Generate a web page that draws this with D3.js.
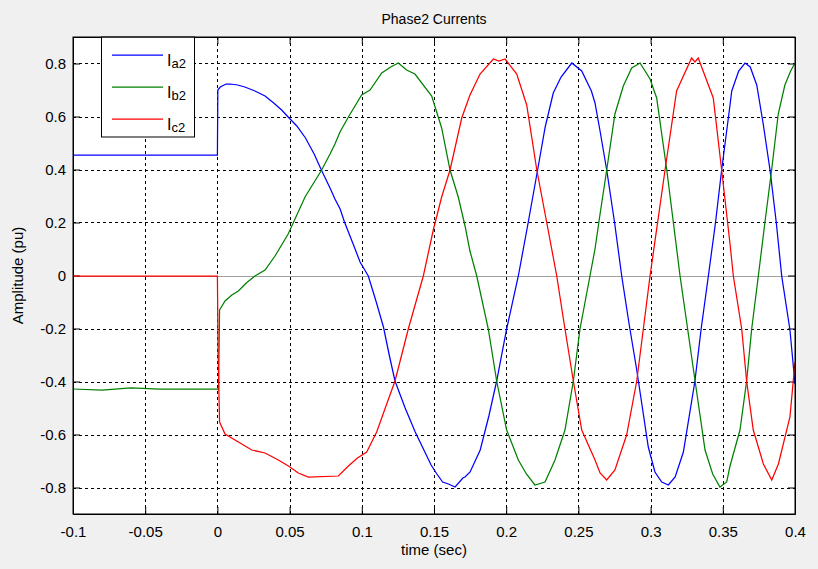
<!DOCTYPE html>
<html>
<head>
<meta charset="utf-8">
<script src="https://cdn.jsdelivr.net/npm/d3@7"></script>
<style>
  html, body { margin: 0; padding: 0; background: #f0f0f0; }
  svg { display: block; font-family: "Liberation Sans", Arial, sans-serif; }
  .grid line { stroke: #000; stroke-dasharray: 3,3; stroke-width: 1; }
  .axis path, .axis line { stroke: #000; }
  .axis text { font-size: 15px; fill: #000; }
</style>
</head>
<body>
<script>
(function() {

  /* tick values */
  var xTicks = [-0.1, -0.05, 0, 0.05, 0.1, 0.15, 0.2, 0.25, 0.3, 0.35, 0.4];
  var yTicks = [-0.8, -0.6, -0.4, -0.2, 0, 0.2, 0.4, 0.6, 0.8];

  /* series names (legend) */
  var seriesNames = ["a2", "b2", "c2"];
  var seriesColors = ["#0000ff", "#008000", "#ff0000"];

  /* [time, amplitude] */
  var ia2 = [[-0.1,0.453],[0,0.453],[0.0003,0.70],[0.002,0.71],[0.006,0.724],[0.009,0.724],[0.014,0.718],
    [0.019,0.713],[0.026,0.697],[0.033,0.677],[0.039,0.652],[0.0445,0.626],[0.049,0.600],[0.055,0.563],
    [0.061,0.520],[0.067,0.46],[0.072,0.397],[0.078,0.33],[0.0814,0.287],[0.085,0.25],[0.088,0.20],
    [0.094,0.12],[0.0988,0.05],[0.1045,0.0],[0.110,-0.10],[0.115,-0.195],[0.119,-0.30],[0.123,-0.397],
    [0.130,-0.50],[0.137,-0.59],[0.143,-0.66],[0.148,-0.716],[0.152,-0.75],[0.156,-0.78],[0.160,-0.785],
    [0.1646,-0.797],[0.170,-0.765],[0.1715,-0.76],[0.175,-0.74],[0.182,-0.66],[0.188,-0.53],[0.1934,-0.397],
    [0.2003,-0.2],[0.2084,0.0],[0.2153,0.2],[0.222,0.407],[0.227,0.56],[0.2326,0.69],[0.238,0.75],
    [0.2454,0.80],[0.2523,0.77],[0.259,0.696],[0.2615,0.65],[0.265,0.545],[0.2696,0.40],[0.275,0.20],
    [0.28,0.0],[0.285,-0.18],[0.2904,-0.358],[0.2984,-0.647],[0.303,-0.74],[0.3077,-0.778],[0.3123,-0.79],
    [0.317,-0.76],[0.3227,-0.665],[0.3307,-0.397],[0.335,-0.2],[0.34,0.0],[0.345,0.2],[0.3492,0.40],
    [0.355,0.645],[0.3562,0.695],[0.361,0.77],[0.3654,0.803],[0.369,0.785],[0.3735,0.72],[0.378,0.57],
    [0.3827,0.40],[0.387,0.2],[0.3908,0.0],[0.3965,-0.206],[0.4,-0.41]];

  var ib2 = [[-0.1,-0.428],[-0.08,-0.431],[-0.06,-0.425],[-0.04,-0.43],[-0.02,-0.427],[0,-0.43],[0.0008,-0.432],
    [0.0015,-0.13],[0.0053,-0.095],[0.010,-0.075],[0.0145,-0.057],[0.020,-0.03],[0.026,0.0],[0.033,0.019],
    [0.0399,0.075],[0.049,0.157],[0.055,0.23],[0.0607,0.295],[0.0722,0.397],[0.078,0.46],[0.0814,0.495],
    [0.0849,0.54],[0.0907,0.60],[0.0999,0.683],[0.1057,0.70],[0.1138,0.766],[0.120,0.785],[0.1253,0.80],
    [0.131,0.775],[0.1368,0.76],[0.1484,0.678],[0.1553,0.558],[0.1611,0.40],[0.1668,0.295],[0.1715,0.188],
    [0.1749,0.094],[0.1796,0.0],[0.1876,-0.2],[0.1934,-0.397],[0.2003,-0.584],[0.2084,-0.697],[0.214,-0.75],
    [0.2199,-0.79],[0.2269,-0.778],[0.2338,-0.697],[0.2407,-0.584],[0.2465,-0.397],[0.2511,-0.2],[0.258,0.0],
    [0.2615,0.10],[0.265,0.232],[0.2696,0.40],[0.2753,0.608],[0.2811,0.715],[0.2869,0.784],[0.2927,0.80],
    [0.2996,0.74],[0.3042,0.67],[0.3112,0.40],[0.3204,0.0],[0.3308,-0.397],[0.3377,-0.66],[0.343,-0.75],
    [0.348,-0.797],[0.3527,-0.778],[0.355,-0.72],[0.3619,-0.584],[0.3665,-0.397],[0.37,-0.2],[0.3746,0.0],
    [0.3792,0.2],[0.3838,0.40],[0.3884,0.608],[0.393,0.72],[0.397,0.77],[0.4,0.80]];

  var ic2 = [[-0.1,0],[0,0],[0.0005,-0.3],[0.0015,-0.553],[0.0053,-0.597],[0.0145,-0.628],[0.0238,-0.66],
    [0.033,-0.67],[0.0422,-0.697],[0.0492,-0.72],[0.056,-0.745],[0.063,-0.76],[0.0838,-0.757],[0.0907,-0.72],
    [0.097,-0.69],[0.1034,-0.665],[0.1103,-0.59],[0.117,-0.49],[0.123,-0.397],[0.1322,-0.2],[0.1426,0.0],
    [0.1495,0.17],[0.1553,0.295],[0.1611,0.40],[0.1692,0.596],[0.1749,0.683],[0.1819,0.76],[0.1911,0.818],
    [0.195,0.81],[0.1992,0.818],[0.2073,0.76],[0.2142,0.645],[0.2212,0.40],[0.228,0.2],[0.235,0.0],
    [0.2407,-0.2],[0.2465,-0.397],[0.2523,-0.584],[0.2615,-0.697],[0.265,-0.747],[0.2696,-0.772],
    [0.2753,-0.734],[0.2834,-0.603],[0.2904,-0.397],[0.2996,0.0],[0.31,0.40],[0.318,0.696],[0.3284,0.82],
    [0.3307,0.805],[0.333,0.82],[0.3434,0.67],[0.3492,0.40],[0.355,0.12],[0.3573,0.0],[0.3631,-0.2],
    [0.3665,-0.397],[0.3711,-0.584],[0.3781,-0.71],[0.3839,-0.772],[0.3885,-0.71],[0.3965,-0.534],[0.4,-0.326]];

  var series = [ia2, ib2, ic2];

  var W = 818, H = 569;
  var margin = {top: 37, right: 23, bottom: 55, left: 73};

  var x = d3.scaleLinear().domain([-0.1, 0.4]).range([margin.left, W - margin.right]);
  var y = d3.scaleLinear().domain([-0.9, 0.9]).range([H - margin.bottom, margin.top]);

  var svg = d3.select("body").append("svg")
      .attr("width", W)
      .attr("height", H);

  // plot background
  svg.append("rect")
      .attr("x", x(-0.1)).attr("y", y(0.9))
      .attr("width", x(0.4) - x(-0.1))
      .attr("height", y(-0.9) - y(0.9))
      .attr("fill", "#fff");

  // dashed grid
  var grid = svg.append("g").attr("class", "grid");
  grid.selectAll(".vg")
      .data(xTicks.slice(1, -1))
    .enter().append("line")
      .attr("x1", function(d) { return Math.round(x(d)) + 0.5; })
      .attr("x2", function(d) { return Math.round(x(d)) + 0.5; })
      .attr("y1", y(0.9)).attr("y2", y(-0.9));
  grid.selectAll(".hg")
      .data(yTicks)
    .enter().append("line")
      .attr("y1", function(d) { return Math.round(y(d)) + 0.5; })
      .attr("y2", function(d) { return Math.round(y(d)) + 0.5; })
      .attr("x1", x(-0.1)).attr("x2", x(0.4));

  // grey zero line
  svg.append("line")
      .attr("x1", x(-0.1)).attr("x2", x(0.4))
      .attr("y1", Math.round(y(0)) + 0.5).attr("y2", Math.round(y(0)) + 0.5)
      .attr("stroke", "#a0a0a0");

  var fmt = function(d) { return String(+d.toFixed(2)); };

  // axes, ticks pointing in
  svg.append("g").attr("class", "axis")
      .attr("transform", "translate(0," + y(-0.9) + ")")
      .call(d3.axisBottom(x).tickValues(xTicks).tickFormat(fmt).tickSizeInner(-7).tickSizeOuter(0).tickPadding(12));
  svg.append("g").attr("class", "axis")
      .attr("transform", "translate(0," + y(0.9) + ")")
      .call(d3.axisTop(x).tickValues(xTicks).tickFormat("").tickSizeInner(-7).tickSizeOuter(0));
  svg.append("g").attr("class", "axis")
      .attr("transform", "translate(" + x(-0.1) + ",0)")
      .call(d3.axisLeft(y).tickValues(yTicks).tickFormat(fmt).tickSizeInner(-7).tickSizeOuter(0).tickPadding(7));
  svg.append("g").attr("class", "axis")
      .attr("transform", "translate(" + x(0.4) + ",0)")
      .call(d3.axisRight(y).tickValues(yTicks).tickFormat("").tickSizeInner(-7).tickSizeOuter(0));

  // curves
  var line = d3.line()
      .x(function(d) { return x(d[0]); })
      .y(function(d) { return Math.round(y(d[1])); });

  svg.selectAll(".series")
      .data(series)
    .enter().append("path")
      .attr("class", "series")
      .attr("d", line)
      .attr("fill", "none")
      .attr("stroke", function(d, i) { return seriesColors[i]; })
      .attr("stroke-width", 1.25);

  // legend
  var lg = svg.append("g");
  lg.append("rect")
      .attr("x", 101.5).attr("y", y(0.9))
      .attr("width", 93).attr("height", 100)
      .attr("fill", "#fff").attr("stroke", "#000");
  var item = lg.selectAll(".item")
      .data(seriesNames)
    .enter().append("g")
      .attr("transform", function(d, i) { return "translate(0," + (55 + i * 32) + ")"; });
  item.append("line")
      .attr("x1", 112).attr("x2", 163)
      .attr("stroke-width", 1.25)
      .attr("stroke", function(d, i) { return seriesColors[i]; });
  var lt = item.append("text")
      .attr("x", 167).attr("y", 11)
      .attr("font-size", 16);
  lt.append("tspan").text("I");
  lt.append("tspan").attr("font-size", 13).attr("dy", 2).text(function(d) { return d; });

  // frame + titles
  svg.append("rect")
      .attr("x", x(-0.1)).attr("y", y(0.9))
      .attr("width", x(0.4) - x(-0.1))
      .attr("height", y(-0.9) - y(0.9))
      .attr("fill", "none").attr("stroke", "#000");

  svg.append("text")
      .attr("x", (x(-0.1) + x(0.4)) / 2).attr("y", 24)
      .attr("text-anchor", "middle").attr("font-size", 14)
      .text("Phase2 Currents");
  svg.append("text")
      .attr("x", (x(-0.1) + x(0.4)) / 2).attr("y", 555)
      .attr("text-anchor", "middle").attr("font-size", 15)
      .text("time (sec)");
  svg.append("text")
      .attr("transform", "translate(23," + y(0) + ")rotate(-90)")
      .attr("text-anchor", "middle").attr("font-size", 15)
      .text("Amplitude (pu)");

})();
</script>
</body>
</html>
